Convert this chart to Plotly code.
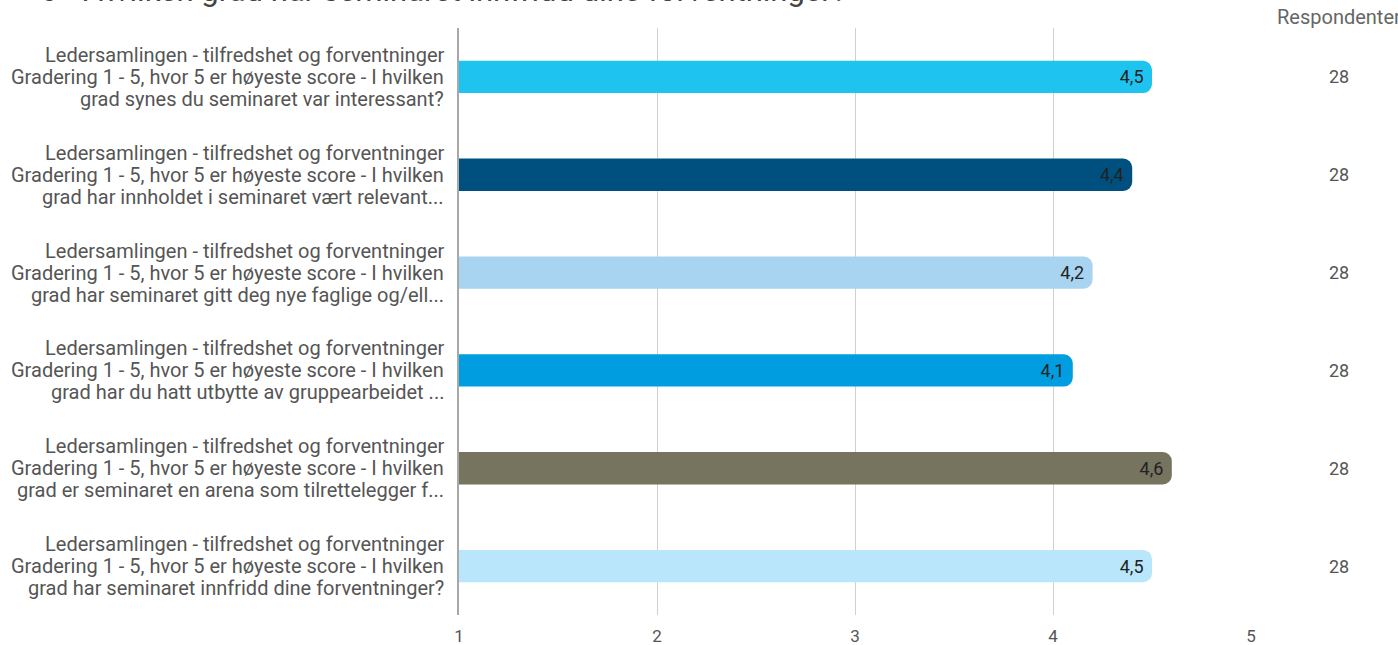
import plotly.graph_objects as go

line1 = "Ledersamlingen - tilfredshet og forventninger"
line2 = "Gradering 1 - 5, hvor 5 er høyeste score - I hvilken"
questions = [
    "grad synes du seminaret var interessant?",
    "grad har innholdet i seminaret vært relevant...",
    "grad har seminaret gitt deg nye faglige og/ell...",
    "grad har du hatt utbytte av gruppearbeidet ...",
    "grad er seminaret en arena som tilrettelegger f...",
    "grad har seminaret innfridd dine forventninger?",
]
categories = [f"{line1}<br>{line2}<br>{q}" for q in questions]
scores = [4.5, 4.4, 4.2, 4.1, 4.6, 4.5]
respondents = [28, 28, 28, 28, 28, 28]
colors = ["#1EC3F0", "#00507F", "#A8D4F2", "#009EE0", "#76735F", "#B9E6FA"]
title_text = "6 - I hvilken grad har seminaret innfridd dine forventninger?"
x_ticks = [1, 2, 3, 4, 5]

fig = go.Figure()
fig.add_trace(go.Bar(
    y=categories, x=scores, orientation="h",
    marker=dict(color=colors, line=dict(width=0), cornerradius=9),
    texttemplate="%{x:.1f}\u00a0", textposition="inside", insidetextanchor="end",
    textfont=dict(family="Roboto", size=18, color="#222"),
    hoverinfo="skip",
))

annotations = [dict(
    text="Respondenter", xref="paper", yref="paper", x=1.111, y=1.0,
    yshift=11, xanchor="center", yanchor="middle", showarrow=False,
    font=dict(family="Roboto", size=20, color="#666"),
)]
for cat, q, r in zip(categories, questions, respondents):
    annotations.append(dict(
        text=str(r), xref="paper", yref="y", x=1.111, y=cat,
        xanchor="center", yanchor="middle", showarrow=False,
        font=dict(family="Roboto", size=18, color="#555"),
    ))
    for shift, txt in zip([22, 0, -22], [line1, line2, q]):
        annotations.append(dict(
            text=txt, xref="paper", yref="y", x=0, y=cat, xshift=-13, yshift=shift,
            xanchor="right", yanchor="middle", showarrow=False,
            font=dict(family="Roboto", size=20, color="#555"),
        ))
annotations.append(dict(
    text=title_text, xref="paper", yref="paper", x=-0.532, y=1.029,
    xanchor="left", yanchor="bottom", showarrow=False,
    font=dict(family="Roboto", size=31, color="#444"),
))

fig.update_layout(
    width=1398, height=645,
    margin=dict(l=459, r=147, t=28, b=30, autoexpand=False),
    paper_bgcolor="white", plot_bgcolor="white",
    bargap=0.67, showlegend=False,
    separators=",.",
    font=dict(family="Roboto", color="#555"),
    annotations=annotations,
    xaxis=dict(range=[1, 5], tickvals=x_ticks, showgrid=True,
               gridcolor="#d0d0d0", gridwidth=1, zeroline=False, ticks="",
               ticklabelstandoff=9, tickfont=dict(family="Roboto", size=17, color="#555"),
               fixedrange=True),
    yaxis=dict(autorange="reversed", showline=True, linecolor="#a8a8a8", linewidth=2,
               ticks="", showticklabels=False, fixedrange=True),
)
fig.write_html("out.html", config={"displayModeBar": False},
               post_script="document.body.style.margin='0';document.body.style.overflow='hidden';")
